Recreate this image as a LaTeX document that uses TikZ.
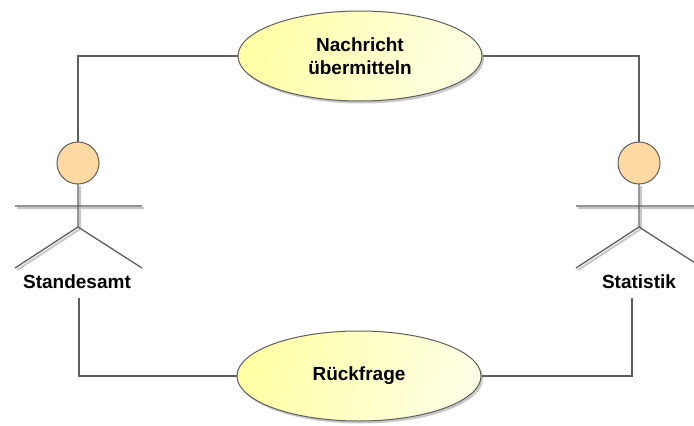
\documentclass[tikz,border=0pt]{standalone}
\usepackage{fontspec}
\setmainfont{Liberation Sans}
\usetikzlibrary{shapes.geometric}
\definecolor{linegray}{HTML}{5E5E5E}
\definecolor{headfill}{HTML}{FFD9A3}
\definecolor{ucleft}{HTML}{FFFFA6}
\definecolor{ucright}{HTML}{FFFFE4}
\definecolor{shad}{HTML}{C8C8C8}
\tikzset{
  usecase/.style={ellipse, draw=linegray, line width=1pt, minimum width=244pt, minimum height=90pt, inner sep=0pt,
    left color=ucleft, right color=ucright, shading angle=75, align=center,
    font=\fontsize{19}{23}\selectfont\bfseries},
  ucshadow/.style={ellipse, fill=shad, draw=none, minimum width=244pt, minimum height=90pt, inner sep=0pt},
  head/.style={circle, draw=linegray, fill=headfill, line width=1pt, minimum size=42pt, inner sep=0pt},
  actorlbl/.style={font=\fontsize{19}{23}\selectfont\bfseries, inner sep=0pt, anchor=base},
  limb/.style={draw=linegray, line width=1.3pt},
  limbshadow/.style={draw=shad, line width=2pt},
  assoc/.style={draw=linegray, line width=1.2pt},
}
\begin{document}
\begin{tikzpicture}[x=1pt, y=-1pt]
\useasboundingbox (0,0) rectangle (694,426);
\clip (0,0) rectangle (694,426);
\fill[white] (0,0) rectangle (694,426);
% use case shadows
\node[ucshadow] at (362,58.5) {};
\node[ucshadow] at (361,378.5) {};
% use cases
\node[usecase] (uc1) at (360,56) {Nachricht\\übermitteln};
\node[usecase] (uc2) at (359,376) {Rückfrage};
% left actor
\draw[limbshadow] (80,186) -- (80,228) (17,208) -- (144,208) (80,229) -- (17,270);
\draw[limb] (78,184) -- (78,227) (15,206) -- (142,206) (15,268) -- (78,227) -- (142,268);
\node[head] (h1) at (78,163) {};
\node[actorlbl] (l1) at (77,288) {Standesamt};
% right actor
\draw[limbshadow] (641,186) -- (641,228) (578,208) -- (705,208) (641,229) -- (578,270);
\draw[limb] (639,184) -- (639,227) (576,206) -- (703,206) (576,268) -- (639,227) -- (703,268);
\node[head] (h2) at (639,163) {};
\node[actorlbl] (l2) at (639,288) {Statistik};
% connectors
\coordinate (b1) at (79,298);
\coordinate (b2) at (632,298);
\draw[assoc] (uc1.west) -| (h1.north);
\draw[assoc] (uc1.east) -| (h2.north);
\draw[assoc] (b1) |- (uc2.west);
\draw[assoc] (b2) |- (uc2.east);
\end{tikzpicture}
\end{document}
